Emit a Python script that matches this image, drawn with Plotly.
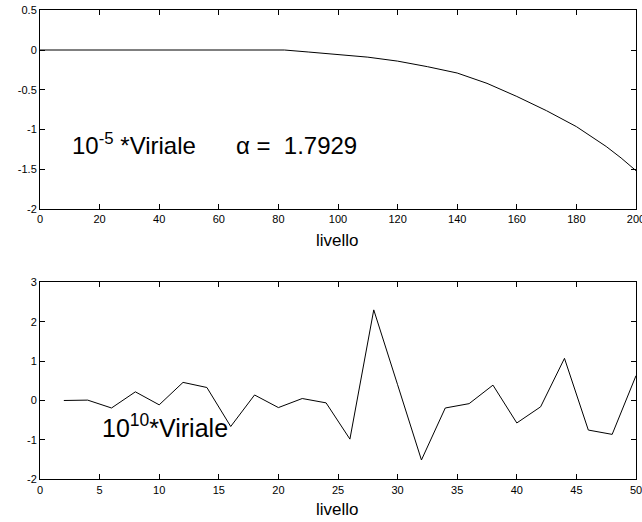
import plotly.graph_objects as go

# ---- data ----
top_levels = [0, 20, 40, 60, 82, 90, 100, 110, 120, 130, 140, 150, 160, 170, 180, 190, 195, 200]
top_values = [0, 0, 0, 0, 0, -0.025, -0.055, -0.09, -0.14, -0.21, -0.29, -0.42, -0.585, -0.765, -0.965, -1.215, -1.36, -1.52]

bot_levels = [2, 4, 6, 8, 10, 12, 14, 16, 18, 20, 22, 24, 26, 28, 30, 32, 34, 36, 38, 40, 42, 44, 46, 48, 50]
bot_values = [0.0, 0.01, -0.19, 0.22, -0.11, 0.46, 0.33, -0.66, 0.14, -0.18, 0.05, -0.06, -0.98, 2.30,
              0.40, -1.51, -0.19, -0.08, 0.39, -0.57, -0.16, 1.07, -0.75, -0.86, 0.63]

top_xticks = [0, 20, 40, 60, 80, 100, 120, 140, 160, 180, 200]
top_yticks = [-2, -1.5, -1, -0.5, 0, 0.5]
top_yticktext = ["-2", "-1.5", "-1", "-0.5", "0", "0.5"]
bot_xticks = [0, 5, 10, 15, 20, 25, 30, 35, 40, 45, 50]
bot_yticks = [-2, -1, 0, 1, 2, 3]
bot_yticktext = ["-2", "-1", "0", "1", "2", "3"]

W, H = 642, 522
FONT = "Liberation Sans, Arial, Helvetica, sans-serif"


def px_x(p):
    return p / W


def px_y(p):
    return 1 - p / H


fig = go.Figure()
fig.add_trace(go.Scatter(x=top_levels, y=top_values, mode="lines",
                         line=dict(color="black", width=1), xaxis="x", yaxis="y",
                         showlegend=False, hoverinfo="skip"))
fig.add_trace(go.Scatter(x=bot_levels, y=bot_values, mode="lines",
                         line=dict(color="black", width=1), xaxis="x2", yaxis="y2",
                         showlegend=False, hoverinfo="skip"))

axis_common = dict(showline=True, linecolor="black", linewidth=1, mirror="ticks",
                   ticks="inside", ticklen=5, tickcolor="black", tickwidth=1,
                   showgrid=False, zeroline=False, automargin=False,
                   ticklabeloverflow="allow",
                   tickfont=dict(family=FONT, size=11, color="black"))

xdom = [px_x(40), px_x(636)]
fig.update_layout(
    width=W, height=H,
    margin=dict(l=0, r=0, t=0, b=0),
    paper_bgcolor="white", plot_bgcolor="white",
    xaxis=dict(domain=xdom, range=[0, 200], tickmode="array", tickvals=top_xticks,
               anchor="y", **axis_common),
    yaxis=dict(domain=[px_y(208.8), px_y(10.3)], range=[-2, 0.5], tickmode="array",
               tickvals=top_yticks, ticktext=top_yticktext, anchor="x", **axis_common),
    xaxis2=dict(domain=xdom, range=[0, 50], tickmode="array", tickvals=bot_xticks,
                anchor="y2", **axis_common),
    yaxis2=dict(domain=[px_y(479.3), px_y(282.3)], range=[-2, 3], tickmode="array",
                tickvals=bot_yticks, ticktext=bot_yticktext, anchor="x2", **axis_common),
)

nb = "\u00a0"
fig.add_annotation(text="10<sup>-5</sup>" + nb + "*Viriale" + nb * 6 + "α" + nb + "=" + nb * 2 + "1.7929",
                   xref="paper", yref="paper", x=px_x(70), y=px_y(144),
                   xanchor="left", yanchor="middle", showarrow=False,
                   font=dict(family=FONT, size=24, color="black"))
fig.add_annotation(text="10<sup>10</sup>*Viriale",
                   xref="paper", yref="paper", x=px_x(100), y=px_y(426),
                   xanchor="left", yanchor="middle", showarrow=False,
                   font=dict(family=FONT, size=25, color="black"))
fig.add_annotation(text="livello", xref="paper", yref="paper", x=px_x(338), y=px_y(240),
                   xanchor="center", yanchor="middle", showarrow=False,
                   font=dict(family=FONT, size=17, color="black"))
fig.add_annotation(text="livello", xref="paper", yref="paper", x=px_x(338), y=px_y(509),
                   xanchor="center", yanchor="middle", showarrow=False,
                   font=dict(family=FONT, size=17, color="black"))

fig.write_html("out.html", config={"displayModeBar": False},
               post_script="document.body.style.margin='0';document.body.style.overflow='hidden';")
